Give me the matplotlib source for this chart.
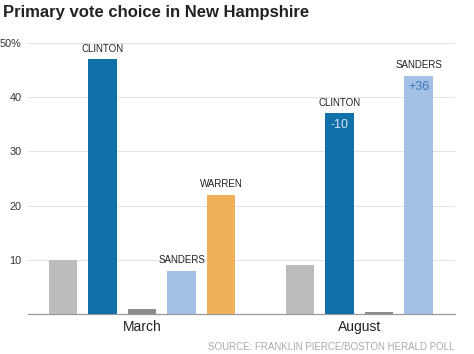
import matplotlib
matplotlib.use("Agg")
import matplotlib.pyplot as plt

plt.rcParams["font.family"] = ["Liberation Sans", "DejaVu Sans"]

groups = ["March", "August"]
march_values = [10, 47, 1, 8, 22]
august_values = [9, 37, 0.3, 44]
march_colors = ["#bcbcbc", "#1170aa", "#8c8c8c", "#a3c1e4", "#f0b15a"]
august_colors = ["#bcbcbc", "#1170aa", "#8c8c8c", "#a3c1e4"]
march_names = ["", "CLINTON", "", "SANDERS", "WARREN"]
august_names = ["", "CLINTON", "", "SANDERS"]
august_changes = ["", "-10", "", "+36"]
change_colors = ["", "#d8e6f3", "", "#3d78bd"]
y_ticks = [10, 20, 30, 40, 50]
y_tick_labels = ["10", "20", "30", "40", "50%"]

fig = plt.figure(figsize=(4.74, 3.54), dpi=100)
ax = fig.add_axes([28 / 474, 40 / 354, 427 / 474, 271 / 354])

march_x = list(range(len(march_values)))
august_x = [i + len(march_values) + 1 for i in range(len(august_values))]
width = 0.72

ax.bar(march_x, march_values, width=width, color=march_colors, zorder=3)
ax.bar(august_x, august_values, width=width, color=august_colors, zorder=3)

for x, v, name in zip(march_x + august_x, march_values + august_values, march_names + august_names):
    if name:
        ax.text(x, v + 1.0, name, ha="center", va="bottom", fontsize=7, color="#222222")

for x, v, ch, c in zip(august_x, august_values, august_changes, change_colors):
    if ch:
        ax.text(x, v - 1.0, ch, ha="center", va="top", fontsize=9, color=c)

ax.set_ylim(0, 50)
ax.set_xlim(-0.886, 9.92)
ax.set_yticks(y_ticks)
ax.set_yticklabels(y_tick_labels)
ax.set_xticks([sum(march_x) / len(march_x), sum(august_x) / len(august_x)])
ax.set_xticklabels(groups)
ax.tick_params(axis="y", length=0, pad=4.5, labelsize=7.8, labelcolor="#333333")
ax.tick_params(axis="x", length=0, pad=4, labelsize=10, labelcolor="#222222")
ax.grid(axis="y", color="#e3e3e3", linewidth=0.8, zorder=0)
for s in ["top", "right", "left"]:
    ax.spines[s].set_visible(False)
ax.spines["bottom"].set_color("#999999")
ax.spines["bottom"].set_linewidth(0.9)

fig.text(3 / 474, 1 - 12 / 354, "Primary vote choice in New Hampshire",
         fontsize=12, fontweight="bold", color="#222222", va="center", ha="left")
fig.text(455 / 474, 1 - 347 / 354, "SOURCE: FRANKLIN PIERCE/BOSTON HERALD POLL",
         fontsize=7, color="#aaaaaa", ha="right", va="center")

fig.savefig("out.png", dpi=100)
